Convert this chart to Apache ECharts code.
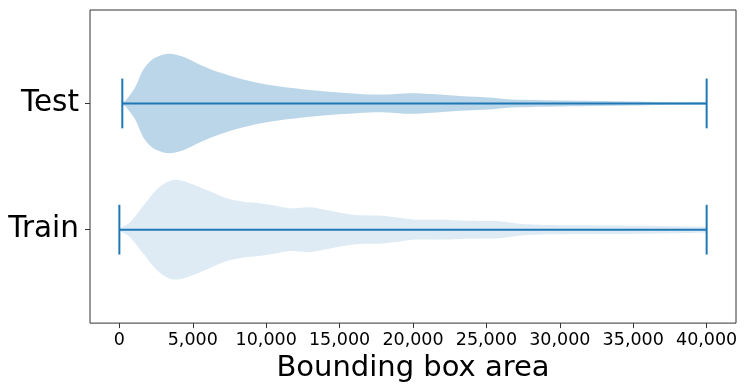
<!DOCTYPE html>
<html>
<head>
<meta charset="utf-8">
<script src="https://cdn.jsdelivr.net/npm/echarts@6/dist/echarts.min.js"></script>
<style>
  html, body { margin: 0; padding: 0; background: #fff; }
  #chart { width: 748px; height: 388px; }
</style>
</head>
<body>
<div id="chart"></div>
<script>
// violin outlines: area value -> relative density (peak = 1)
const testArea = [200, 390, 1070, 1630, 2310, 3330, 4350, 5490, 6850, 8440, 10030, 10930, 12970, 15220, 17050, 18210, 19780, 21340, 23180, 25420, 26780, 30180, 33590, 38150, 40000]
const testDensity = [0.03, 0.05, 0.32, 0.68, 0.90, 1.0, 0.94, 0.78, 0.62, 0.48, 0.38, 0.34, 0.27, 0.215, 0.18, 0.18, 0.207, 0.187, 0.147, 0.115, 0.08, 0.06, 0.046, 0.026, 0.02]
const trainArea = [0, 50, 730, 1630, 2540, 3330, 4010, 5030, 6170, 7310, 8440, 9570, 10460, 11610, 12970, 13860, 15220, 16370, 17940, 19300, 20250, 22020, 23650, 25900, 27260, 29100, 32500, 35900, 39300, 40000]
const trainDensity = [0.03, 0.034, 0.15, 0.48, 0.81, 0.97, 1.0, 0.91, 0.77, 0.63, 0.56, 0.53, 0.49, 0.43, 0.45, 0.41, 0.33, 0.29, 0.28, 0.23, 0.2, 0.2, 0.18, 0.17, 0.12, 0.094, 0.086, 0.08, 0.06, 0.05]

const groups = ['Train', 'Test']          // y positions 1 and 2
const xTicks = [0, 5000, 10000, 15000, 20000, 25000, 30000, 35000, 40000]

const blue = '#1f77b4'
const font = 'DejaVu Sans'
const halfWidth = 0.394   // y units at density 1
const capHalf = 0.197

let chart = echarts.init(document.getElementById('chart'))

function violinSeries(name, pos, xs, dens, fill) {
  return {
    name: name,
    type: 'custom',
    data: [[pos]],
    renderItem: function(params, api) {
      const upper = xs.map((x, i) => api.coord([x, pos + dens[i] * halfWidth]))
      const lower = xs.map((x, i) => api.coord([x, pos - dens[i] * halfWidth])).reverse()
      const lo = xs[0], hi = xs[xs.length - 1]
      const a = api.coord([lo, pos]), b = api.coord([hi, pos])
      const a1 = api.coord([lo, pos + capHalf]), a2 = api.coord([lo, pos - capHalf])
      const b1 = api.coord([hi, pos + capHalf]), b2 = api.coord([hi, pos - capHalf])
      return {
        type: 'group',
        children: [
          {
            type: 'polygon',
            shape: { points: upper.concat(lower), smooth: 0.3 },
            style: { fill: fill, stroke: null }
          },
          { type: 'line', shape: { x1: a[0], y1: a[1], x2: b[0], y2: b[1] }, style: { stroke: blue, lineWidth: 2 } },
          { type: 'line', shape: { x1: a1[0], y1: a1[1], x2: a2[0], y2: a2[1] }, style: { stroke: blue, lineWidth: 2 } },
          { type: 'line', shape: { x1: b1[0], y1: b1[1], x2: b2[0], y2: b2[1] }, style: { stroke: blue, lineWidth: 2 } }
        ]
      }
    }
  }
}

const option = {
  animation: false,
  textStyle: { fontFamily: font },
  grid: {
    left: 90, right: 12, top: 10, bottom: 63,
    show: true, borderColor: '#333', borderWidth: 1
  },
  xAxis: {
    type: 'value',
    min: -2000,
    max: 42000,
    name: 'Bounding box area',
    nameLocation: 'middle',
    nameGap: 30,
    nameTextStyle: { fontSize: 29, color: '#000', fontFamily: font },
    axisLine: { show: false, onZero: false },
    splitLine: { show: false },
    axisTick: { show: true, length: 5, lineStyle: { color: '#333' }, customValues: xTicks },
    axisLabel: {
      customValues: xTicks,
      fontSize: 17.5,
      fontFamily: font,
      color: '#000',
      margin: 8,
      formatter: v => v.toLocaleString('en-US')
    }
  },
  yAxis: {
    type: 'value',
    min: 0.26,
    max: 2.74,
    axisLine: { show: false, onZero: false },
    splitLine: { show: false },
    axisTick: { show: true, length: 5, lineStyle: { color: '#333' }, customValues: [1, 2] },
    axisLabel: {
      customValues: [1, 2],
      fontSize: 29.5,
      fontFamily: font,
      color: '#000',
      margin: 11,
      formatter: v => groups[Math.round(v) - 1]
    }
  },
  series: [
    violinSeries('Test', 2, testArea, testDensity, 'rgba(31,119,180,0.3)'),
    violinSeries('Train', 1, trainArea, trainDensity, 'rgba(31,119,180,0.15)')
  ]
}
chart.setOption(option)
</script>
</body>
</html>
